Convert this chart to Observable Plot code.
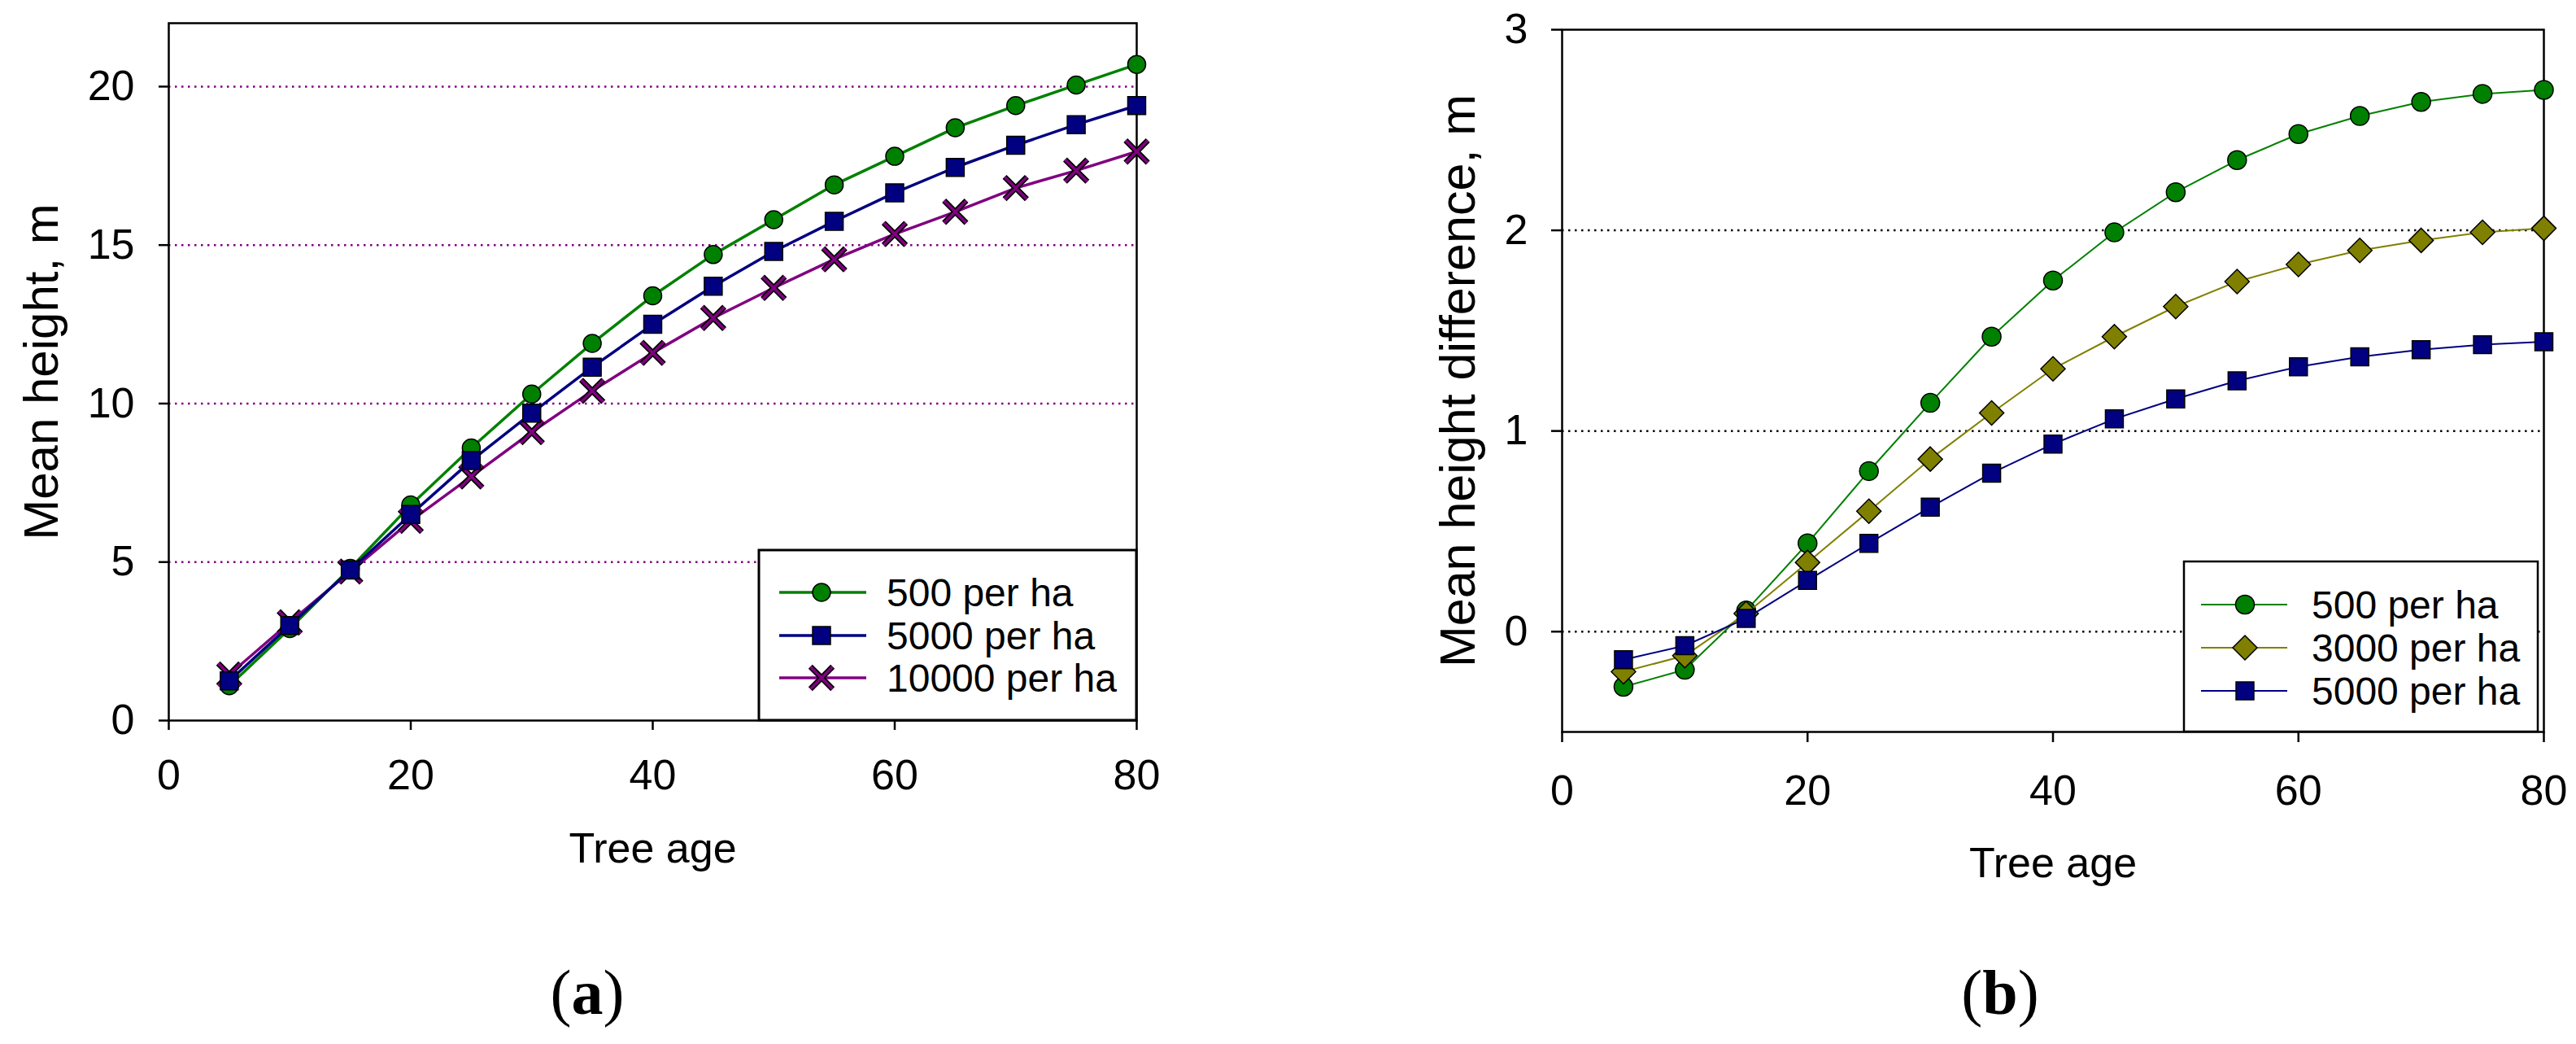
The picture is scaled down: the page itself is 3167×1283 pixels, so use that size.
<!DOCTYPE html>
<html><head><meta charset="utf-8">
<script src="https://cdn.jsdelivr.net/npm/d3@7"></script>
<script src="https://cdn.jsdelivr.net/npm/@observablehq/plot@0.6"></script>
<style>
html,body{margin:0;padding:0;background:#fff;}
#page{position:relative;width:3167px;height:1283px;overflow:hidden;background:#fff;}
.holder{position:absolute;top:0;}
.holder svg{max-width:none !important;}
#overlay{position:absolute;left:0;top:0;pointer-events:none;}
</style></head>
<body><div id="page">
<div id="chartA" class="holder" style="left:0px;width:1600px;"></div>
<div id="chartB" class="holder" style="left:1600px;width:1567px;"></div>
</div>
<script>
// ---------- data ----------
const ages = [5,10,15,20,25,30,35,40,45,50,55,60,65,70,75,80];
// panel (a): mean height, m
const height500   = [1.1,2.9,4.8,6.8,8.6,10.3,11.9,13.4,14.7,15.8,16.9,17.8,18.7,19.4,20.05,20.7];
const height5000  = [1.25,3.0,4.75,6.5,8.2,9.7,11.15,12.5,13.7,14.8,15.75,16.65,17.45,18.15,18.8,19.4];
const height10000 = [1.45,3.1,4.7,6.3,7.7,9.1,10.4,11.6,12.7,13.65,14.55,15.35,16.05,16.8,17.35,17.95];
// panel (b): mean height difference, m
const diff500  = [-0.275,-0.19,0.105,0.44,0.80,1.14,1.47,1.75,1.99,2.19,2.35,2.48,2.57,2.64,2.68,2.70];
const diff3000 = [-0.2,-0.12,0.09,0.345,0.60,0.86,1.09,1.31,1.47,1.62,1.745,1.83,1.90,1.95,1.99,2.01];
const diff5000 = [-0.14,-0.07,0.066,0.255,0.44,0.62,0.79,0.935,1.06,1.16,1.25,1.32,1.37,1.405,1.43,1.445];

const seriesA = ["500 per ha","5000 per ha","10000 per ha"];
const seriesB = ["500 per ha","3000 per ha","5000 per ha"];
const xTicks = [0,20,40,60,80];
const yTicksA = [0,5,10,15,20];
const yTicksB = [0,1,2,3];
const gridA = [5,10,15,20];
const gridB = [0,1,2];
const xLabel = ["Tree age"];
const yLabelA = ["Mean height, m"];
const yLabelB = ["Mean height difference, m"];
const captions = ["a","b"];

// ---------- tables ----------
const rows = (vals, name) => ages.map((a,i)=>({age:a, value:vals[i], series:name}));
const A500 = rows(height500, seriesA[0]), A5000 = rows(height5000, seriesA[1]), A10000 = rows(height10000, seriesA[2]);
const B500 = rows(diff500, seriesB[0]), B3000 = rows(diff3000, seriesB[1]), B5000 = rows(diff5000, seriesB[2]);

const GREEN="#008000", NAVY="#000080", PURPLE="#800080", OLIVE="#808000";
const FONT = "'Liberation Sans', Arial, sans-serif";

const plotA = Plot.plot({
  width:1600, height:1100, marginLeft:207, marginRight:203, marginTop:28, marginBottom:215,
  style:{fontFamily:FONT, fontSize:"52px", background:"transparent", color:"black"},
  x:{domain:[0,80]}, y:{domain:[0,22]},
  marks:[
    Plot.ruleY(gridA, {stroke:PURPLE, strokeWidth:2.5, strokeDasharray:"2.5,5.5"}),
    Plot.frame({stroke:"black", strokeWidth:2.5}),
    Plot.line(A500, {x:"age", y:"value", stroke:GREEN, strokeWidth:3.5}),
    Plot.dot(A500, {x:"age", y:"value", symbol:"circle", r:11, fill:GREEN, stroke:"black", strokeWidth:1.5}),
    Plot.line(A10000, {x:"age", y:"value", stroke:PURPLE, strokeWidth:3.5}),
    Plot.dot(A10000, {x:"age", y:"value", symbol:"times", r:12.5, stroke:"black", strokeWidth:7}),
    Plot.dot(A10000, {x:"age", y:"value", symbol:"times", r:12.5, stroke:PURPLE, strokeWidth:3.5}),
    Plot.line(A5000, {x:"age", y:"value", stroke:NAVY, strokeWidth:3.5}),
    Plot.dot(A5000, {x:"age", y:"value", symbol:"square", r:12.4, fill:NAVY, stroke:"black", strokeWidth:1.5}),
    Plot.axisX({ticks:xTicks, tickSize:12, tickPadding:36, strokeWidth:2.5, label:null, tickFormat:d=>String(d)}),
    Plot.axisY({ticks:yTicksA, tickSize:12, tickPadding:30, strokeWidth:2.5, label:null, tickFormat:d=>String(d)}),
    Plot.text(xLabel, {text:d=>d, frameAnchor:"bottom", dy:158, fontSize:52, lineAnchor:"middle", textAnchor:"middle"}),
    Plot.text(yLabelA, {text:d=>d, frameAnchor:"left", rotate:-90, dx:-156, fontSize:60, lineAnchor:"middle", textAnchor:"middle"})
  ]
});
document.getElementById("chartA").append(plotA);

const plotB = Plot.plot({
  width:1567, height:1100, marginLeft:320, marginRight:40, marginTop:36, marginBottom:201,
  style:{fontFamily:FONT, fontSize:"52px", background:"transparent", color:"black"},
  x:{domain:[0,80]}, y:{domain:[-0.5,3]},
  marks:[
    Plot.ruleY(gridB, {stroke:"black", strokeWidth:2.5, strokeDasharray:"2.5,5.5"}),
    Plot.frame({stroke:"black", strokeWidth:2.5}),
    Plot.line(B500, {x:"age", y:"value", stroke:GREEN, strokeWidth:2}),
    Plot.dot(B500, {x:"age", y:"value", symbol:"circle", r:11.5, fill:GREEN, stroke:"black", strokeWidth:1.5}),
    Plot.line(B3000, {x:"age", y:"value", stroke:OLIVE, strokeWidth:2}),
    Plot.dot(B3000, {x:"age", y:"value", symbol:"diamond2", r:13.5, fill:OLIVE, stroke:"black", strokeWidth:1.5}),
    Plot.line(B5000, {x:"age", y:"value", stroke:NAVY, strokeWidth:2}),
    Plot.dot(B5000, {x:"age", y:"value", symbol:"square", r:12.4, fill:NAVY, stroke:"black", strokeWidth:1.5}),
    Plot.axisX({ticks:xTicks, tickSize:13, tickPadding:40, strokeWidth:2.5, label:null, tickFormat:d=>String(d)}),
    Plot.axisY({ticks:yTicksB, tickSize:13, tickPadding:29, strokeWidth:2.5, label:null, tickFormat:d=>String(d)}),
    Plot.text(xLabel, {text:d=>d, frameAnchor:"bottom", dy:162, fontSize:52, lineAnchor:"middle", textAnchor:"middle"}),
    Plot.text(yLabelB, {text:d=>d, frameAnchor:"left", rotate:-90, dx:-127, fontSize:61, lineAnchor:"middle", textAnchor:"middle"})
  ]
});
document.getElementById("chartB").append(plotB);

// ---------- legends & captions (overlay) ----------
const svg = d3.select("#page").append("svg").attr("id","overlay")
  .attr("width",3167).attr("height",1283);

const legendA = {box:[933,676,1397,885], border:3, rows:[728,781,833], line:[958,1065], mark:1010, textX:1090, lineW:3.5,
  items:[{name:seriesA[0], color:GREEN, sym:d3.symbolCircle, r:11},
         {name:seriesA[1], color:NAVY, sym:d3.symbolSquare, r:12.4},
         {name:seriesA[2], color:PURPLE, sym:d3.symbolTimes, r:12.5, times:true}]};
const legendB = {box:[2685,690,3120,899], border:2.5, rows:[743,796,849], line:[2706,2812], mark:2760, textX:2842, lineW:2,
  items:[{name:seriesB[0], color:GREEN, sym:d3.symbolCircle, r:11.5},
         {name:seriesB[1], color:OLIVE, sym:d3.symbolDiamond2, r:13.5},
         {name:seriesB[2], color:NAVY, sym:d3.symbolSquare, r:12.4}]};

function drawLegend(L){
  const [x0,y0,x1,y1] = L.box;
  svg.append("rect").attr("x",x0).attr("y",y0).attr("width",x1-x0).attr("height",y1-y0)
    .attr("fill","white").attr("stroke","black").attr("stroke-width",L.border);
  L.items.forEach((it,i)=>{
    const y = L.rows[i];
    svg.append("line").attr("x1",L.line[0]).attr("x2",L.line[1]).attr("y1",y).attr("y2",y)
      .attr("stroke",it.color).attr("stroke-width",L.lineW);
    const path = d3.symbol(it.sym, Math.PI*it.r*it.r)();
    if (it.times){
      svg.append("path").attr("d",path).attr("transform",`translate(${L.mark},${y})`)
        .attr("fill","none").attr("stroke","black").attr("stroke-width",7);
      svg.append("path").attr("d",path).attr("transform",`translate(${L.mark},${y})`)
        .attr("fill","none").attr("stroke",it.color).attr("stroke-width",3.5);
    } else {
      svg.append("path").attr("d",path).attr("transform",`translate(${L.mark},${y})`)
        .attr("fill",it.color).attr("stroke","black").attr("stroke-width",1.5);
    }
    svg.append("text").attr("x",L.textX).attr("y",y).attr("dy","0.35em")
      .attr("font-family",FONT).attr("font-size",48).attr("fill","black").text(it.name);
  });
}
drawLegend(legendA);
drawLegend(legendB);

const capPos = [722, 2459];
captions.forEach((c,i)=>{
  const t = svg.append("text").attr("x",capPos[i]).attr("y",1246).attr("text-anchor","middle")
    .attr("font-family","'Liberation Serif','Times New Roman',serif").attr("font-size",78).attr("fill","black");
  t.append("tspan").text("(");
  t.append("tspan").attr("font-weight","bold").text(c);
  t.append("tspan").text(")");
});
</script>
</body></html>
